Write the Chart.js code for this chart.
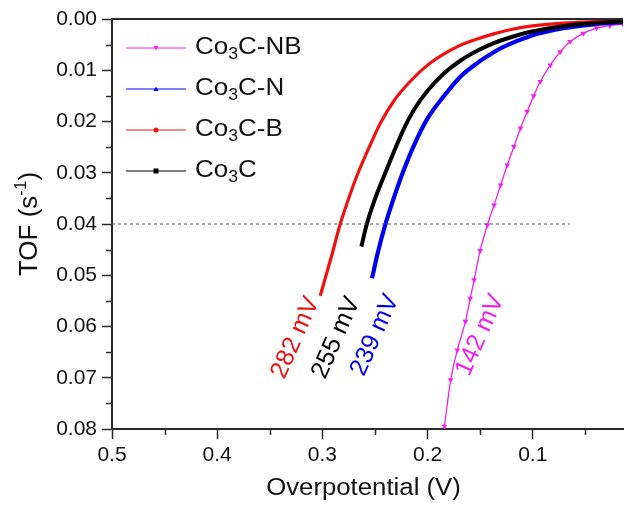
<!DOCTYPE html>
<html>
<head>
<meta charset="UTF-8">
<title>TOF vs overpotential</title>
<script src="https://cdn.jsdelivr.net/npm/chart.js"></script>
<style>
  body { margin: 0; background: #fff; }
</style>
</head>
<body>
<canvas id="chart" width="627" height="508"></canvas>
<script>
// overpotential (V) and TOF (s^-1)
const nbV   = [0.184, 0.178, 0.1717, 0.164, 0.1594, 0.1557, 0.150, 0.1431, 0.1368, 0.1305, 0.1242, 0.1179, 0.1116, 0.1054, 0.0991, 0.0928, 0.0834, 0.0739, 0.0644, 0.0519, 0.0393, 0.0267, 0.0142];
const nbTOF = [0.0795, 0.0704, 0.0646, 0.0590, 0.0545, 0.0509, 0.0452, 0.0402, 0.0363, 0.0324, 0.0285, 0.0249, 0.0213, 0.0181, 0.0150, 0.0122, 0.0090, 0.0064, 0.0044, 0.0028, 0.0018, 0.0013, 0.0010];

const nV   = [0.2528, 0.2472, 0.2403, 0.2314, 0.2236, 0.2126, 0.2000, 0.1843, 0.1686, 0.1528, 0.1371, 0.1274, 0.1020, 0.0708, 0.0395, 0.0142];
const nTOF = [0.0506, 0.0455, 0.0402, 0.0345, 0.0300, 0.0245, 0.0194, 0.0150, 0.0112, 0.0086, 0.0065, 0.0054, 0.0033, 0.0018, 0.0010, 0.0006];

const bV   = [0.302, 0.2912, 0.2833, 0.2755, 0.2660, 0.2535, 0.2440, 0.2314, 0.2157, 0.2000, 0.1843, 0.1686, 0.1528, 0.1371, 0.1217, 0.1020, 0.0708, 0.0420, 0.0142];
const bTOF = [0.0540, 0.0462, 0.0402, 0.0353, 0.0300, 0.0241, 0.0200, 0.0158, 0.0120, 0.0090, 0.0068, 0.0051, 0.0039, 0.0029, 0.0021, 0.0014, 0.0008, 0.0005, 0.0003];

const cV   = [0.2629, 0.2580, 0.2503, 0.2409, 0.2314, 0.2220, 0.2126, 0.2000, 0.1843, 0.1686, 0.1528, 0.1371, 0.1274, 0.1020, 0.0708, 0.0400, 0.0142];
const cTOF = [0.0444, 0.0402, 0.0353, 0.0304, 0.0256, 0.0212, 0.0176, 0.0140, 0.0106, 0.0081, 0.0062, 0.0047, 0.0040, 0.0025, 0.0014, 0.0008, 0.0005];

const refV   = [0.5, 0.065];
const refTOF = [0.04, 0.04];

const names  = ['Co3C-NB', 'Co3C-N', 'Co3C-B', 'Co3C'];
const colors = ['#f020f0', '#0000f0', '#f01010', '#000000'];
const marks  = ['triangleDown', 'triangle', 'circle', 'rect'];

const xMajor = [0.5, 0.4, 0.3, 0.2, 0.1];
const xMinor = [0.45, 0.35, 0.25, 0.15, 0.05];
const yMajor = [0, 0.01, 0.02, 0.03, 0.04, 0.05, 0.06, 0.07, 0.08];
const yMinor = [0.005, 0.015, 0.025, 0.035, 0.045, 0.055, 0.065, 0.075];

const notes    = ['282 mV', '255 mV', '239 mV', '142 mV'];
const noteV    = [0.3255, 0.2868, 0.250, 0.150];
const noteTOF  = [0.0622, 0.0622, 0.0617, 0.0617];
const noteCols = ['#f01010', '#000000', '#0000f0', '#f020f0'];

const pts = (xs, ys) => xs.map((v, i) => ({ x: v, y: ys[i] }));
const FONT = "Arial, 'Liberation Sans', sans-serif";
const AX = '#2a2a2a';

// text like Co3C-NB with the digits set as subscripts
function drawChem(ctx, s, x, y, size) {
  for (const ch of s) {
    const sub = /\d/.test(ch);
    ctx.font = (sub ? size * 0.68 : size) + 'px ' + FONT;
    ctx.fillText(ch, x, sub ? y + size * 0.3 : y);
    x += ctx.measureText(ch).width;
  }
}
function drawMark(ctx, kind, x, y, r) {
  ctx.beginPath();
  if (kind === 'circle') ctx.arc(x, y, r, 0, Math.PI * 2);
  else if (kind === 'rect') ctx.rect(x - r, y - r, 2 * r, 2 * r);
  else if (kind === 'triangle') { ctx.moveTo(x, y - r); ctx.lineTo(x + r, y + r * 0.8); ctx.lineTo(x - r, y + r * 0.8); }
  else { ctx.moveTo(x, y + r); ctx.lineTo(x + r, y - r * 0.8); ctx.lineTo(x - r, y - r * 0.8); }
  ctx.closePath();
  ctx.fill();
}

const decor = {
  id: 'decor',
  afterDraw(chart) {
    const { ctx, chartArea: a, scales: { x, y } } = chart;
    ctx.save();

    // top frame
    ctx.strokeStyle = AX;
    ctx.lineWidth = 2;
    ctx.beginPath();
    ctx.moveTo(a.left - 1, a.top);
    ctx.lineTo(a.right, a.top);
    ctx.stroke();

    // minor ticks
    ctx.lineWidth = 1.5;
    ctx.beginPath();
    xMinor.forEach(v => {
      const px = Math.round(x.getPixelForValue(v)) + 0.5;
      ctx.moveTo(px, a.bottom);
      ctx.lineTo(px, a.bottom + 6);
    });
    yMinor.forEach(v => {
      const py = Math.round(y.getPixelForValue(v)) + 0.5;
      ctx.moveTo(a.left, py);
      ctx.lineTo(a.left - 6, py);
    });
    ctx.stroke();

    // legend
    ctx.textBaseline = 'middle';
    ctx.textAlign = 'left';
    names.forEach((n, i) => {
      const ly = 48 + i * 41;
      ctx.strokeStyle = colors[i];
      ctx.lineWidth = 1;
      ctx.beginPath();
      ctx.moveTo(126, ly);
      ctx.lineTo(186, ly);
      ctx.stroke();
      ctx.fillStyle = colors[i];
      drawMark(ctx, marks[i], 156, ly, 2.5);
      ctx.fillStyle = '#111';
      ctx.save();
      ctx.translate(195, ly);
      ctx.scale(1.13, 1);
      drawChem(ctx, n, 0, 0, 23);
      ctx.restore();
    });

    // overpotential labels at the 0.04 crossing
    notes.forEach((t, i) => {
      ctx.save();
      ctx.translate(x.getPixelForValue(noteV[i]), y.getPixelForValue(noteTOF[i]));
      ctx.rotate(-66 * Math.PI / 180);
      ctx.font = '25px ' + FONT;
      ctx.fillStyle = noteCols[i];
      ctx.textAlign = 'center';
      ctx.textBaseline = 'middle';
      ctx.fillText(t, 0, 0);
      ctx.restore();
    });

    // axis titles
    ctx.fillStyle = '#111';
    ctx.save();
    ctx.translate((a.left + a.right) / 2 - 4, 489);
    ctx.scale(1.12, 1);
    ctx.font = '23px ' + FONT;
    ctx.textAlign = 'center';
    ctx.fillText('Overpotential (V)', 0, 0);
    ctx.restore();

    ctx.save();
    ctx.translate(30, (a.top + a.bottom) / 2);
    ctx.rotate(-Math.PI / 2);
    ctx.textAlign = 'left';
    const p1 = 'TOF (s', sup = '-1', p2 = ')';
    ctx.font = '26px ' + FONT;
    const w1 = ctx.measureText(p1).width, w3 = ctx.measureText(p2).width;
    ctx.font = '17px ' + FONT;
    const w2 = ctx.measureText(sup).width;
    let cx = -(w1 + w2 + w3) / 2;
    ctx.font = '26px ' + FONT;
    ctx.fillText(p1, cx, 0); cx += w1;
    ctx.font = '17px ' + FONT;
    ctx.fillText(sup, cx, -9); cx += w2;
    ctx.font = '26px ' + FONT;
    ctx.fillText(p2, cx, 0);
    ctx.restore();

    ctx.restore();
  }
};

const curve = (data, color, width) => ({
  data, showLine: true, borderColor: color, backgroundColor: color,
  borderWidth: width, pointRadius: 0, cubicInterpolationMode: 'monotone'
});

new Chart(document.getElementById('chart'), {
  type: 'scatter',
  data: {
    datasets: [
      { data: pts(refV, refTOF), showLine: true, borderColor: '#555', borderWidth: 1,
        borderDash: [3, 3], pointRadius: 0 },
      curve(pts(cV, cTOF), colors[3], 4),
      curve(pts(bV, bTOF), colors[2], 3.2),
      curve(pts(nV, nTOF), colors[1], 4.2),
      { data: pts(nbV, nbTOF), showLine: true, borderColor: colors[0], backgroundColor: colors[0],
        borderWidth: 1.3, pointStyle: 'triangle', rotation: 180, pointRadius: 3.3,
        pointBorderWidth: 0, cubicInterpolationMode: 'monotone' }
    ]
  },
  options: {
    responsive: false,
    devicePixelRatio: 1,
    animation: false,
    layout: { padding: { top: 19, right: 0, left: 0, bottom: 0 } },
    plugins: { legend: { display: false }, tooltip: { enabled: false } },
    scales: {
      x: {
        type: 'linear', reverse: true, min: 0.0142, max: 0.5,
        afterBuildTicks: s => { s.ticks = xMajor.map(v => ({ value: v })); },
        afterFit: s => { s.height = 79; },
        grid: { drawOnChartArea: false, tickLength: 10, tickColor: AX, tickWidth: 1.5 },
        border: { color: AX, width: 2 },
        ticks: { autoSkip: false, maxRotation: 0, padding: 4, color: '#111',
                 font: { family: FONT, size: 21 }, callback: v => v.toFixed(1) }
      },
      y: {
        type: 'linear', reverse: true, min: 0, max: 0.08,
        afterBuildTicks: s => { s.ticks = yMajor.map(v => ({ value: v })); },
        afterFit: s => { s.width = 112; },
        grid: { drawOnChartArea: false, tickLength: 10, tickColor: AX, tickWidth: 1.5 },
        border: { color: AX, width: 2 },
        ticks: { autoSkip: false, padding: 5, color: '#111',
                 font: { family: FONT, size: 21 }, callback: v => v.toFixed(2) }
      }
    }
  },
  plugins: [decor]
});
</script>
</body>
</html>
